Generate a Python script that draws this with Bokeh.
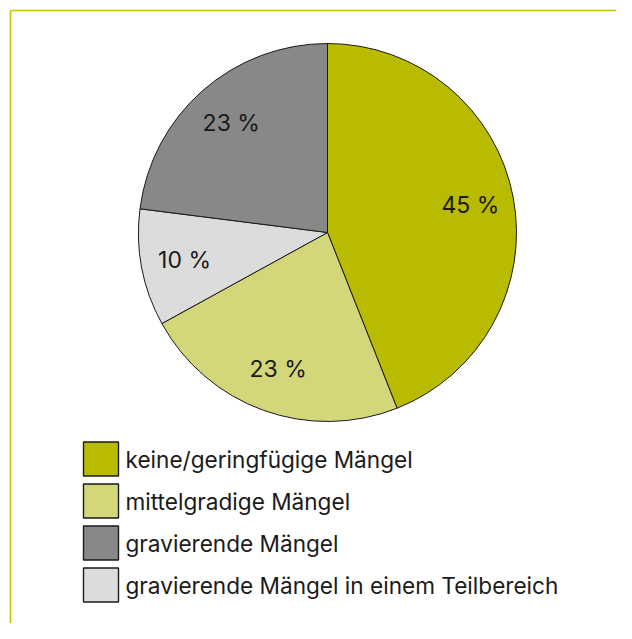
import math
from bokeh.plotting import figure
from bokeh.models import Range1d, ColumnDataSource
from bokeh.core.properties import value
from bokeh.embed import file_html
from bokeh.resources import INLINE

# ---- data (pie order, clockwise from 12 o'clock) ----
categories = ["keine/geringfügige Mängel", "mittelgradige Mängel",
              "gravierende Mängel in einem Teilbereich", "gravierende Mängel"]
shares = [44, 23, 10, 23]
share_labels = ["45 %", "23 %", "10 %", "23 %"]
colors = ["#b9bb00", "#d4d67a", "#dcdcdc", "#888888"]
legend_order = ["keine/geringfügige Mängel", "mittelgradige Mängel",
                "gravierende Mängel", "gravierende Mängel in einem Teilbereich"]

W, H = 616, 623
PAGE_H = 639
FONT = "Inter"

p = figure(width=W, height=H, output_backend="svg", toolbar_location=None,
           x_range=Range1d(0, W), y_range=Range1d(PAGE_H - H, PAGE_H),
           min_border=0)
p.axis.visible = False
p.grid.visible = False
p.outline_line_color = None
p.background_fill_color = "white"
p.border_fill_color = "white"

def sy(y):
    return PAGE_H - y

# frame decoration (top and left rule)
p.segment(x0=[10, 10], y0=[sy(10), sy(10)], x1=[640, 10], y1=[sy(10), sy(640)],
          line_color="#c3c400", line_width=1.6)

# ---- pie ----
cx, cy, R = 327, sy(232), 189
total = float(sum(shares))
starts, ends, lx, ly = [], [], [], []
cum = 0.0
for s in shares:
    a_end = math.pi / 2 - cum / total * 2 * math.pi
    cum += s
    a_start = math.pi / 2 - cum / total * 2 * math.pi
    starts.append(a_start)
    ends.append(a_end)
    mid = (a_start + a_end) / 2
    lx.append(cx + 0.77 * R * math.cos(mid))
    ly.append(cy + 0.77 * R * math.sin(mid))

src = ColumnDataSource(dict(cat=categories, start=starts, end=ends, color=colors,
                            lab=share_labels, lx=lx, ly=ly))
p.wedge(x=cx, y=cy, radius=R, start_angle="start", end_angle="end",
        fill_color="color", line_color="#1a1a1a", line_width=1, source=src)
p.text(x="lx", y="ly", text="lab", source=src, text_font=value(FONT),
       text_font_size="23px", text_color="#1a1a1a",
       text_align="center", text_baseline="middle")

# ---- legend ----
color_of = dict(zip(categories, colors))
leg_y = [sy(458.5 + 42 * i) for i in range(len(legend_order))]
leg_src = ColumnDataSource(dict(name=legend_order, y=leg_y,
                                color=[color_of[c] for c in legend_order]))
p.rect(x=100.5, y="y", width=35, height=34, fill_color="color",
       line_color="#1a1a1a", line_width=1.4, source=leg_src)
p.text(x=125, y="y", text="name", source=leg_src, text_font=value(FONT),
       text_font_size="22.6px", text_color="#1a1a1a",
       text_align="left", text_baseline="middle")

open("out.html", "w").write(file_html(p, INLINE))
